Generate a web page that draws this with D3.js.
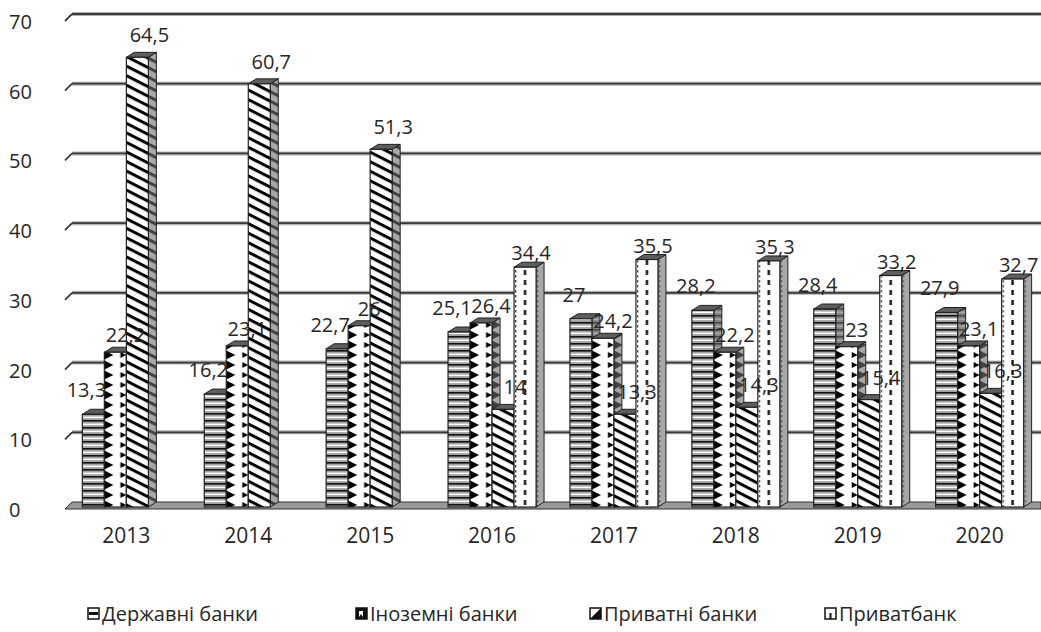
<!DOCTYPE html>
<html>
<head>
<meta charset="utf-8">
<script src="https://cdn.jsdelivr.net/npm/d3@7"></script>
<style>
    body { margin: 0; background: #fff; }
    text { font-family: "Open Sans", sans-serif; fill: #262626; }
</style>
</head>
<body>
<svg id="chart" width="1041" height="632"></svg>
<script>
const years = ["2013", "2014", "2015", "2016", "2017", "2018", "2019", "2020"];
const seriesNames = ["Державні банки", "Іноземні банки", "Приватні банки", "Приватбанк"];
const stateBanks = [13.3, 16.2, 22.7, 25.1, 27, 28.2, 28.4, 27.9];
const foreignBanks = [22.2, 23.1, 26, 26.4, 24.2, 22.2, 23, 23.1];
const privateBanks = [64.5, 60.7, 51.3, 14, 13.3, 14.3, 15.4, 16.3];
const privatBank = [null, null, null, 34.4, 35.5, 35.3, 33.2, 32.7];
const yTicks = [0, 10, 20, 30, 40, 50, 60, 70];

const seriesValues = [stateBanks, foreignBanks, privateBanks, privatBank];

const width = 1041,
    height = 632,
    wallLeft = 72,
    frontLeft = 65,
    depthX = 8,
    depthY = -5;

// where each series puts its value label, relative to the bar top
const labelShift = [[-7, -24], [10, -17], [12, -22], [6, -14]];

const svg = d3.select("#chart");
const defs = svg.append("defs");

// back wall scale; front faces sit 5px lower
let y = d3.scaleLinear().domain([0, 70]).range([502, 14]);
let yFront = v => y(v) - depthY;

let x = d3.scaleBand()
    .domain(years)
    .range([frontLeft, width])
    .paddingInner(0.278)
    .paddingOuter(0.1425);

let xs = d3.scaleBand()
    .domain(d3.range(seriesNames.length))
    .range([0, x.bandwidth()]);

const bw = xs.bandwidth();

// gridlines with small slanted stub on the left wall
let grid = svg.append("g");
yTicks.filter(t => t > 0).forEach(t => {
    grid.append("line")
        .attr("x1", wallLeft).attr("x2", width)
        .attr("y1", y(t)).attr("y2", y(t))
        .attr("stroke", "#b0b0b0").attr("stroke-width", 4);
    grid.append("line")
        .attr("x1", wallLeft).attr("x2", width)
        .attr("y1", y(t)).attr("y2", y(t))
        .attr("stroke", "#3a3a3a").attr("stroke-width", 1.8);
    grid.append("line")
        .attr("x1", frontLeft).attr("x2", wallLeft)
        .attr("y1", y(t) + 7).attr("y2", y(t))
        .attr("stroke", "#3a3a3a").attr("stroke-width", 1.8);
});

// floor
svg.append("path")
    .attr("d", `M${frontLeft},${y(0) + 7} L${wallLeft},${y(0)} L${width},${y(0)} L${width},${y(0) + 7} Z`)
    .attr("fill", "#9a9a9a")
    .attr("stroke", "#333")
    .attr("stroke-width", 1);

// y axis labels
svg.append("g")
    .selectAll("text")
    .data(yTicks)
    .enter()
    .append("text")
    .attr("x", 9)
    .attr("y", d => y(d) + 8)
    .attr("dy", "0.35em")
    .style("font-size", "20px")
    .text(d => d);

// x axis labels
svg.append("g")
    .selectAll("text")
    .data(years)
    .enter()
    .append("text")
    .attr("x", d => x(d) + x.bandwidth() / 2)
    .attr("y", 536)
    .attr("dy", "0.35em")
    .attr("text-anchor", "middle")
    .style("font-size", "21px")
    .text(d => d);

// patterns, one per bar so they line up with the bar edges
function makePattern(id, s, x0) {
    let p = defs.append("pattern")
        .attr("id", id)
        .attr("patternUnits", "userSpaceOnUse")
        .attr("x", x0)
        .attr("y", 0);
    if (s === 0) {
        p.attr("width", bw).attr("height", 7);
        p.append("rect").attr("width", bw).attr("height", 7).attr("fill", "#a3a3a3");
        p.append("rect").attr("y", 0).attr("width", bw).attr("height", 1.6).attr("fill", "#111");
        p.append("rect").attr("y", 3.6).attr("width", bw).attr("height", 1.5).attr("fill", "#fff");
    } else if (s === 1) {
        p.attr("width", bw).attr("height", 10);
        p.append("rect").attr("width", bw).attr("height", 10).attr("fill", "#fff");
        p.append("path").attr("d", "M0,0.5 L9,5 L0,9.5 Z").attr("fill", "#000");
        p.append("path").attr("d", `M${bw - 6},2 L${bw},5 L${bw - 6},8 Z`).attr("fill", "#000");
    } else if (s === 2) {
        p.attr("width", 8.5).attr("height", 8.5)
            .attr("patternTransform", "rotate(27)");
        p.append("rect").attr("width", 8.5).attr("height", 8.5).attr("fill", "#fff");
        p.append("rect").attr("width", 8.5).attr("height", 3).attr("fill", "#000");
    } else {
        p.attr("width", bw).attr("height", 10);
        p.append("rect").attr("width", bw).attr("height", 10).attr("fill", "#fff");
        p.append("rect").attr("x", bw / 2 - 1.2).attr("width", 2.4).attr("height", 5).attr("fill", "#111");
        p.append("rect").attr("x", 1).attr("width", 1.2).attr("height", 2.5).attr("fill", "#333");
        p.append("rect").attr("x", 1).attr("y", 5).attr("width", 1.2).attr("height", 2.5).attr("fill", "#333");
    }
}

let bars = [];
years.forEach((yr, i) => {
    seriesValues.forEach((vals, s) => {
        if (vals[i] === null) return;
        bars.push({year: yr, i: i, s: s, value: vals[i]});
    });
});

let barG = svg.append("g");
bars.forEach(d => {
    let x0 = x(d.year) + xs(d.s),
        x1 = x0 + bw,
        yTop = yFront(d.value),
        yBot = yFront(0),
        id = `pat-${d.i}-${d.s}`;
    makePattern(id, d.s, x0);

    let g = barG.append("g");
    // side face
    let side = `M${x1},${yBot} L${x1},${yTop} L${x1 + depthX},${yTop + depthY} L${x1 + depthX},${yBot + depthY} Z`;
    g.append("path").attr("d", side).attr("fill", `url(#${id})`);
    g.append("path").attr("d", side)
        .attr("fill", "rgba(110,110,110,0.6)")
        .attr("stroke", "#222").attr("stroke-width", 1);
    // top face
    g.append("path")
        .attr("d", `M${x0},${yTop} L${x0 + depthX},${yTop + depthY} L${x1 + depthX},${yTop + depthY} L${x1},${yTop} Z`)
        .attr("fill", "#5e5e5e")
        .attr("stroke", "#222").attr("stroke-width", 1);
    // front face
    g.append("rect")
        .attr("x", x0).attr("y", yTop)
        .attr("width", bw).attr("height", yBot - yTop)
        .attr("fill", `url(#${id})`)
        .attr("stroke", "#222").attr("stroke-width", 1.2);
});

// data labels
svg.append("g")
    .selectAll("text")
    .data(bars)
    .enter()
    .append("text")
    .attr("x", d => x(d.year) + xs(d.s) + bw / 2 + labelShift[d.s][0])
    .attr("y", d => yFront(d.value) + labelShift[d.s][1])
    .attr("dy", "0.35em")
    .attr("text-anchor", "middle")
    .style("font-size", "20px")
    .text(d => String(d.value).replace(".", ","));

// legend
const legendX = [88, 356, 590, 825];
let legend = svg.append("g")
    .selectAll("g")
    .data(seriesNames)
    .enter()
    .append("g")
    .attr("transform", (d, i) => `translate(${legendX[i]},608)`);

legend.each(function (d, i) {
    let g = d3.select(this);
    if (i === 0) {
        g.append("rect").attr("width", 11).attr("height", 11).attr("fill", "#fff").attr("stroke", "#111").attr("stroke-width", 1.5);
        g.append("rect").attr("x", 1).attr("y", 4).attr("width", 9).attr("height", 3).attr("fill", "#111");
    } else if (i === 1) {
        g.append("rect").attr("width", 11).attr("height", 11).attr("fill", "#111").attr("stroke", "#111").attr("stroke-width", 1.5);
        g.append("path").attr("d", "M3,3 L7,3 L7,9 L5,6 L3,9 Z").attr("fill", "#fff");
    } else if (i === 2) {
        g.append("rect").attr("width", 11).attr("height", 11).attr("fill", "#fff").attr("stroke", "#111").attr("stroke-width", 1.5);
        g.append("path").attr("d", "M11,0 L11,11 L0,11 Z").attr("fill", "#111");
    } else {
        g.append("rect").attr("width", 11).attr("height", 11).attr("fill", "#fff").attr("stroke", "#111").attr("stroke-width", 1.5);
        g.append("rect").attr("x", 4.5).attr("y", 5).attr("width", 2).attr("height", 6).attr("fill", "#111");
    }
    g.append("text")
        .attr("x", 14)
        .attr("y", 6)
        .attr("dy", "0.35em")
        .style("font-size", "20px")
        .text(d);
});
</script>
</body>
</html>
